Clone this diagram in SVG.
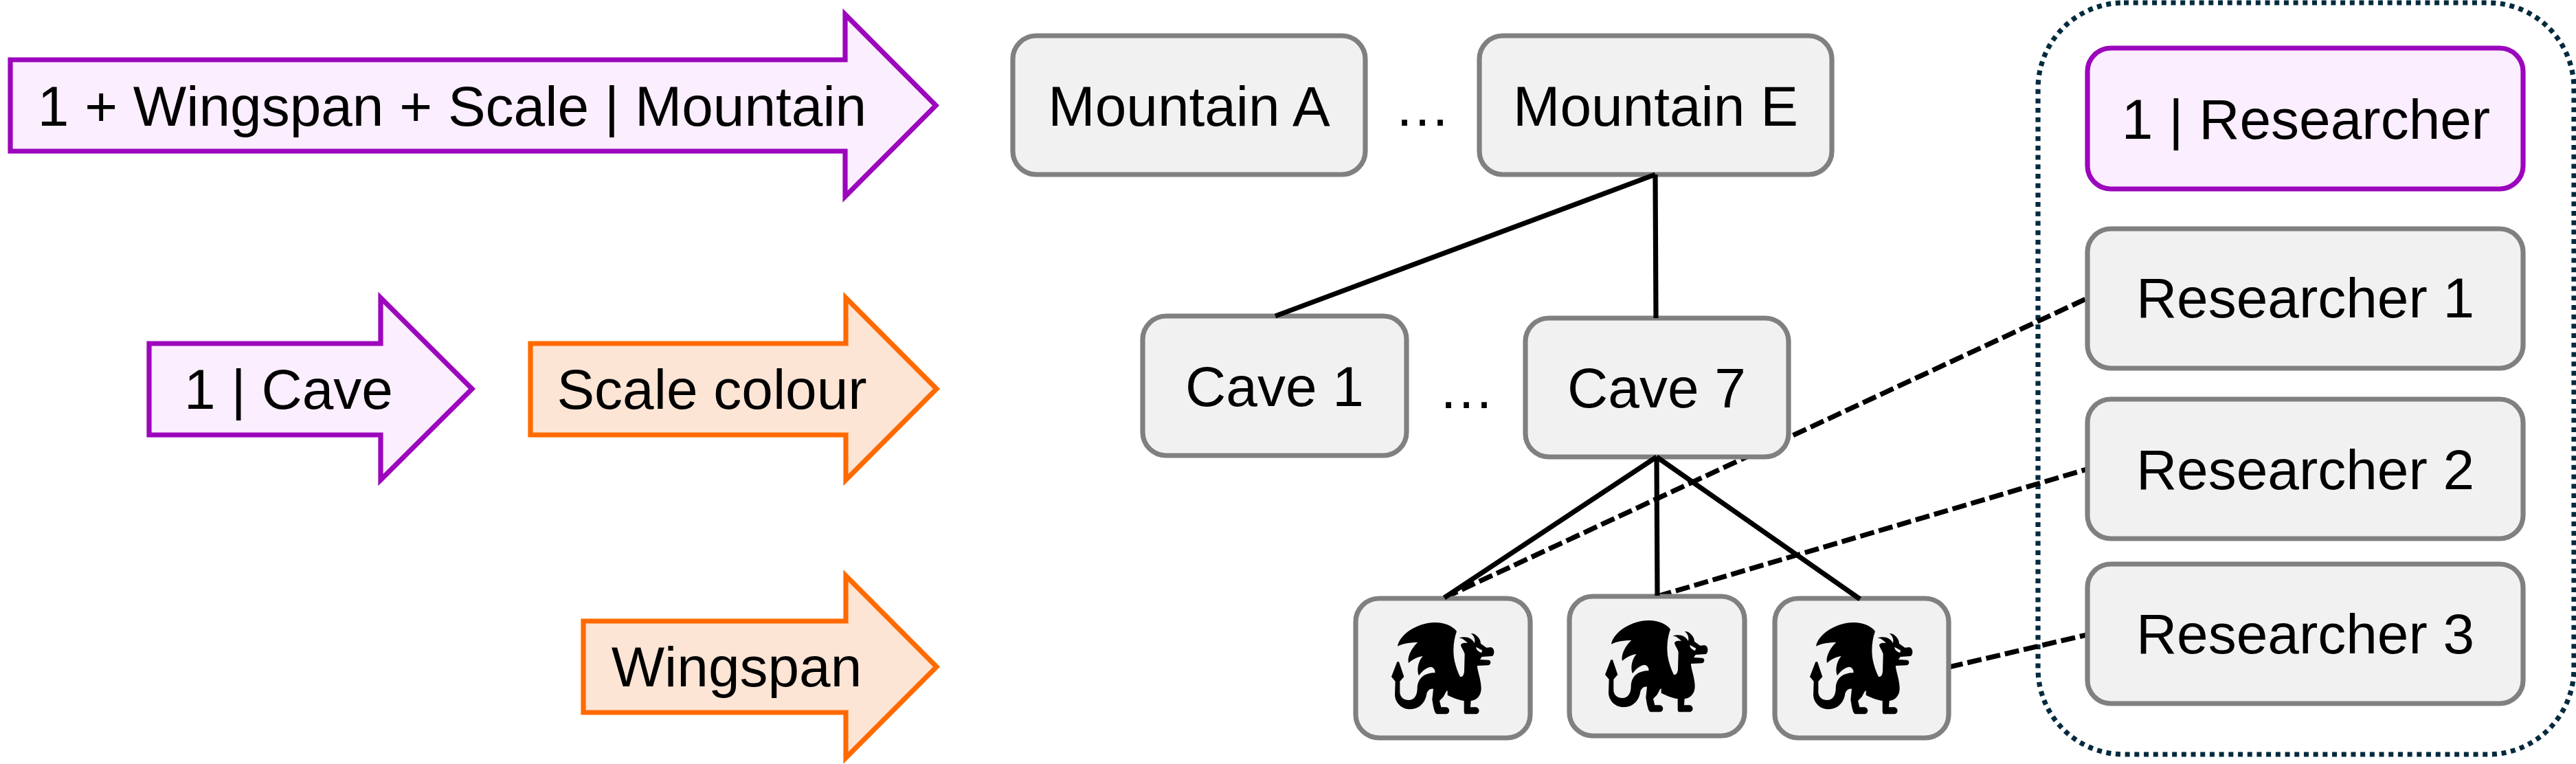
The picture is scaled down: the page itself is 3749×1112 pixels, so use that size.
<svg xmlns="http://www.w3.org/2000/svg" width="3749" height="1112" viewBox="0 0 3749 1112">
<style>
text{font-family:"Liberation Sans",Arial,sans-serif;font-size:82px;fill:#000;text-anchor:middle}
.box{fill:#f1f1f1;stroke:#808080;stroke-width:7.2}
.pbox{fill:#fbeefe;stroke:#9c06bc;stroke-width:7.2}
.parrow{fill:#fbeefe;stroke:#9c06bc;stroke-width:7.2;stroke-miterlimit:10}
.oarrow{fill:#fde5d5;stroke:#ff6a00;stroke-width:7.2;stroke-miterlimit:10}
.solid{stroke:#000;stroke-width:7.2;fill:none}
.dashed{stroke:#000;stroke-width:7.2;fill:none;stroke-dasharray:21 7}
</style>
<defs>
<path id="dragon" fill="#000" fill-rule="evenodd" transform="scale(0.33333)" d="M402,362 C410,310 490,258 565,258 C610,258 645,275 660,297 C648,330 643,370 648,410 C652,440 665,475 675,495 C685,497 692,488 693,470 L695,395 C690,380 680,368 678,358 C678,350 690,345 708,348 C695,335 685,325 670,326 C700,315 725,325 738,348 C742,330 735,315 722,306 C745,305 765,330 765,350 L790,368 L810,366 C825,370 828,395 815,405 L770,408 L762,420 L800,422 C812,425 810,443 798,445 L750,447 C748,460 767,510 767,545 C767,575 750,597 722,600 L720,628 L745,628 C762,632 762,655 745,658 L700,658 C692,658 692,650 692,640 L692,600 C670,598 640,585 620,575 L620,555 C612,558 608,575 600,585 L585,600 L592,628 L615,628 C632,632 632,655 615,658 L575,658 C565,658 562,640 558,625 L553,595 L558,548 C545,545 530,555 528,575 C520,615 490,637 455,637 C420,637 392,610 390,575 L392,515 L375,495 L400,430 L408,430 L430,495 L412,515 L412,565 C415,590 435,597 450,597 C475,597 488,575 488,545 C490,500 520,478 565,478 C568,465 558,452 545,452 C525,455 505,475 495,490 C485,470 490,430 512,405 C490,408 465,420 450,435 C443,410 462,370 490,345 C460,345 425,350 402,362 Z M745,365 L772,380 L768,390 C755,385 745,378 745,365 Z"/>
</defs>
<rect id="researcher-group" x="2966" y="4" width="780" height="1094" rx="125" ry="125" fill="none" stroke="#002a3e" stroke-width="7.2" stroke-dasharray="7 6.7"/>
<g id="connectors-dashed">
<line class="dashed" x1="2102" y1="870" x2="3038" y2="434"/>
<line class="dashed" x1="2412" y1="868" x2="3037" y2="683"/>
<line class="dashed" x1="2836" y1="971" x2="3037" y2="924"/>
</g>
<g id="arrow-mountain"><path class="parrow" d="M15,87 H1230 V21 L1362,153.5 L1230,286 V220 H15 Z"/><text x="658" y="183">1 + Wingspan + Scale | Mountain</text></g>
<g id="arrow-cave"><path class="parrow" d="M217,500 H554 V433.5 L687,566 L554,698.5 V633 H217 Z"/><text x="420" y="595">1 | Cave</text></g>
<g id="arrow-scale"><path class="oarrow" d="M772,500 H1231 V433.5 L1363,566 L1231,698.5 V633 H772 Z"/><text x="1036" y="595">Scale colour</text></g>
<g id="arrow-wingspan"><path class="oarrow" d="M849,904 H1231 V838 L1363,970.5 L1231,1103 V1037 H849 Z"/><text x="1072" y="999">Wingspan</text></g>
<g id="mountain-a"><rect class="box" x="1474" y="52" width="513" height="202" rx="34"/><text x="1730.5" y="183">Mountain A</text></g>
<text id="ellipsis-mountain" x="2070" y="183">…</text>
<g id="mountain-e"><rect class="box" x="2153" y="52" width="513" height="202" rx="34"/><text x="2409.5" y="183">Mountain E</text></g>
<g id="cave-1"><rect class="box" x="1663" y="460" width="384" height="203" rx="34"/><text x="1855" y="591">Cave 1</text></g>
<text id="ellipsis-cave" x="2134" y="594">…</text>
<g id="cave-7"><rect class="box" x="2220" y="463" width="383" height="202" rx="34"/><text x="2411" y="593">Cave 7</text></g>
<g id="dragon-1"><rect class="box" x="1973" y="871" width="254" height="203" rx="34"/><use href="#dragon" transform="translate(1900 820)"/></g>
<g id="dragon-2"><rect class="box" x="2284" y="868" width="255" height="203" rx="34"/><use href="#dragon" transform="translate(2211 817)"/></g>
<g id="dragon-3"><rect class="box" x="2583" y="871" width="253" height="203" rx="34"/><use href="#dragon" transform="translate(2509 820)"/></g>
<g id="researcher-header"><rect class="pbox" x="3038" y="70" width="634" height="205" rx="34"/><text x="3356" y="202">1 | Researcher</text></g>
<g id="researcher-1"><rect class="box" x="3038" y="333" width="634" height="203" rx="34"/><text x="3355" y="462">Researcher 1</text></g>
<g id="researcher-2"><rect class="box" x="3038" y="581" width="634" height="203" rx="34"/><text x="3355" y="712">Researcher 2</text></g>
<g id="researcher-3"><rect class="box" x="3038" y="821" width="634" height="203" rx="34"/><text x="3355" y="951">Researcher 3</text></g>
<g id="connectors-solid">
<line class="solid" x1="2409" y1="254" x2="1856" y2="460"/>
<line class="solid" x1="2409" y1="254" x2="2410" y2="463"/>
<line class="solid" x1="2411" y1="665" x2="2102" y2="870"/>
<line class="solid" x1="2411" y1="665" x2="2412" y2="867"/>
<line class="solid" x1="2411" y1="665" x2="2707" y2="872"/>
</g>
</svg>
